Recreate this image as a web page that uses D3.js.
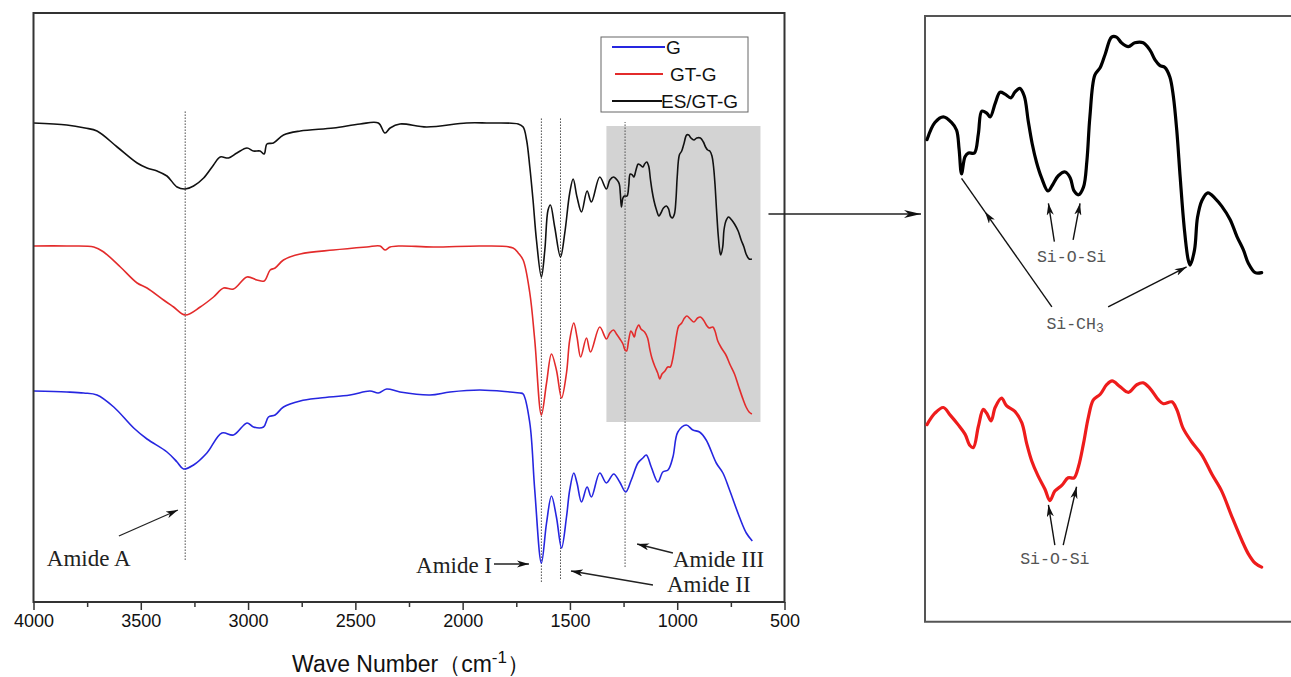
<!DOCTYPE html>
<html>
<head>
<meta charset="utf-8">
<script src="https://cdn.jsdelivr.net/npm/d3@7"></script>
<style>
  body { margin: 0; background: #fff; }
  svg { display: block; }
</style>
</head>
<body>
<svg id="chart" width="1291" height="677"></svg>
<script>
// ---- Data: FTIR spectra, [wavenumber (cm-1), transmittance (a.u., offset)] ----
const tickValues = [4000, 3500, 3000, 2500, 2000, 1500, 1000, 500];
const minorTickValues = [3750, 3250, 2750, 2250, 1750, 1250, 750];
const seriesNames = ["G", "GT-G", "ES/GT-G"];
const seriesColors = ["#2626e0", "#e32b2b", "#111111"];

const specG = [
  [4000,210],[3845,209],[3766,208],[3704,206],[3626,194],[3533,173],[3471,162],[3378,149],[3331,139],
  [3301,132],[3254,136],[3192,148],[3122,168],[3068,166],[3005,178],[2975,174],[2928,174],
  [2905,184],[2874,186],[2835,194],[2757,200],[2664,203],[2525,206],[2432,210],[2393,208],
  [2354,212],[2292,209],[2152,206],[2059,209],[1920,211],[1780,209],[1733,208],[1718,207],
  [1687,178],[1664,111],[1633,38],[1609,78],[1586,105],[1563,84],[1539,53],[1516,84],
  [1501,111],[1482,128],[1467,118],[1446,99],[1420,114],[1400,104],[1361,128],[1330,118],
  [1296,127],[1268,119],[1240,109],[1214,121],[1183,138],[1160,143],[1144,146],[1121,134],
  [1090,119],[1067,129],[1043,131],[1020,144],[997,169],[958,176],[927,171],[896,169],
  [865,161],[818,138],[787,128],[756,111],[710,84],[678,68],[650,60]
];

const specGTG = [
  [4000,355],[3845,355],[3719,354],[3673,349],[3595,334],[3517,318],[3471,313],[3394,301],[3347,294],
  [3293,286],[3223,294],[3161,304],[3114,313],[3068,312],[3005,324],[2959,321],[2925,320],
  [2897,331],[2874,333],[2835,341],[2757,347],[2602,351],[2447,354],[2385,355],[2362,351],
  [2338,354],[2292,355],[2137,354],[1904,355],[1765,353],[1741,348],[1718,341],[1687,308],
  [1664,261],[1633,186],[1609,218],[1586,247],[1563,231],[1539,203],[1516,228],[1501,261],
  [1482,278],[1467,264],[1450,244],[1423,263],[1404,249],[1361,274],
  [1330,262],[1314,268],[1297,271],[1283,267],[1267,262],[1253,257],[1243,251],[1236,250],
  [1226,261],[1216,270],[1209,268],[1200,264],[1192,271],[1179,276],[1169,272],[1152,269],
  [1138,263],[1128,252],[1118,243],[1105,235],[1091,228],[1081,222],[1071,227],[1057,230],
  [1044,234],[1032,234],[1023,240],[1013,252],[1003,266],[993,275],[979,278],[966,283],
  [955,285],[939,282],[922,279],[905,283],[892,284],[878,281],[861,275],[851,273],
  [834,274],[824,270],[811,260],[794,253],[773,246],[753,236],[733,227],[713,214],
  [692,201],[679,194],[665,189],[652,187]
];

const specES = [
  [4000,478],[3845,476],[3760,473],[3704,470],[3610,454],[3517,438],[3471,433],[3424,430],[3378,425],[3331,414],
  [3293,412],[3254,415],[3207,423],[3161,436],[3130,444],[3091,443],[3052,448],[3005,453],
  [2975,450],[2944,450],[2925,447],[2912,457],[2882,458],[2835,466],[2757,470],[2602,473],
  [2478,477],[2393,478],[2362,468],[2338,473],[2292,477],[2168,474],[1982,478],[1888,478],
  [1741,477],[1718,474],[1702,461],[1687,434],[1672,401],[1656,361],[1633,324],[1617,351],
  [1602,391],[1591,396],[1571,374],[1544,344],[1524,368],[1501,408],[1485,422],[1467,404],
  [1446,389],[1420,410],[1400,399],[1361,424],
  [1330,412],[1314,421],[1297,424],[1280,421],[1270,417],[1265,407],[1260,394],[1253,403],
  [1246,405],[1234,405],[1226,415],[1219,427],[1209,426],[1202,424],[1192,431],[1182,437],
  [1172,436],[1160,434],[1152,437],[1142,439],[1133,435],[1125,422],[1117,410],[1108,400],
  [1098,392],[1085,385],[1076,388],[1064,393],[1050,395],[1040,392],[1032,385],[1023,383],
  [1013,387],[1006,401],[1000,424],[990,446],[979,450],[969,457],[956,466],[946,466],
  [936,463],[922,461],[909,463],[892,463],[878,459],[868,454],[858,451],[848,450],
  [838,445],[831,435],[824,417],[817,392],[809,366],[801,349],[797,346],[788,354],
  [782,371],[773,380],[761,384],[746,381],[733,377],[716,370],[702,361],[689,354],
  [679,347],[665,342],[652,342]
];

// Band positions marked with dotted guide lines: [wavenumber, lower value, upper value]
const bandLines = [[3293, 41, 491], [1633, 19, 483], [1544, 22, 483], [1243, 34, 479]];

// Highlighted window, magnified in the side panel
const zoomWavenumbers = [1330, 612];
const zoomValues = [179, 475];

// Band assignments in the main panel
const amideLabels = [
  { text: "Amide A",   at: [3938, 35], anchor: "start" },
  { text: "Amide I",   at: [1863, 28], anchor: "end" },
  { text: "Amide II",  at: [1048, 9],  anchor: "start" },
  { text: "Amide III", at: [1020, 34], anchor: "start" }
];
const amideArrows = [
  { from: [3602, 65], to: [3327, 91] },
  { from: [1854, 37], to: [1691, 37] },
  { from: [1113, 16], to: [1495, 30] },
  { from: [1020, 48], to: [1187, 57] }
];

// Band assignments in the magnified panel
const insetLabels = [
  { text: "Si-O-Si", sub: "",  at: [1037, 347.6] },
  { text: "Si-CH",   sub: "3", at: [1030, 312.3] },
  { text: "Si-O-Si", sub: "",  at: [1071, 188.6] }
];
const insetArrows = [
  { from: [1072, 358.3], to: [1084, 378.5] },
  { from: [1034, 359.2], to: [1020, 378.5] },
  { from: [1077, 324],   to: [1212.5, 374], tip: [1260, 391.6] },
  { from: [963, 324],    to: [804, 345] },
  { from: [1071, 198.6], to: [1084, 219.7] },
  { from: [1054, 198.6], to: [1027, 229.3] }
];

// ---- Layout ----
const svg = d3.select("#chart");
const main = { left: 33.5, right: 784.5, top: 13, bottom: 602 };
const inset = { left: 925, top: 16, bottom: 621.7 };

const x = d3.scaleLinear().domain([4000, 500]).range([main.left, main.right]);
const y = d3.scaleLinear().domain([0, 589]).range([601, 12]);

const xIn = d3.scaleLinear().domain(zoomWavenumbers).range([927, 1281.4]);
const yIn = d3.scaleLinear().domain(zoomValues).range([582.3, 20]);

const defs = svg.append("defs");
function arrowMarker(id, len, half) {
  defs.append("marker")
    .attr("id", id)
    .attr("markerUnits", "userSpaceOnUse")
    .attr("viewBox", `0 0 ${len} ${half * 2}`)
    .attr("markerWidth", len).attr("markerHeight", half * 2)
    .attr("refX", len).attr("refY", half)
    .attr("orient", "auto")
    .append("path")
    .attr("d", `M0,0 L${len},${half} L0,${half * 2} L${len * 0.28},${half} Z`)
    .attr("fill", "#111");
}
arrowMarker("head", 12, 3.6);
arrowMarker("headBig", 17, 4);

// Highlight window
svg.append("rect")
  .attr("x", x(zoomWavenumbers[0]))
  .attr("y", y(zoomValues[1]))
  .attr("width", x(zoomWavenumbers[1]) - x(zoomWavenumbers[0]))
  .attr("height", y(zoomValues[0]) - y(zoomValues[1]))
  .attr("fill", "#d3d3d3");

// Dotted band guides
svg.append("g").selectAll("line").data(bandLines).join("line")
  .attr("x1", d => x(d[0])).attr("x2", d => x(d[0]))
  .attr("y1", d => y(d[1])).attr("y2", d => y(d[2]))
  .attr("stroke", "#555").attr("stroke-width", 1)
  .attr("stroke-dasharray", "1.6,1.4");

// Spectra
const line = d3.line()
  .x(d => x(d[0])).y(d => y(d[1]))
  .curve(d3.curveCatmullRom.alpha(0.5));
const spectra = [specG, specGTG, specES];
svg.append("g").selectAll("path").data(spectra).join("path")
  .attr("d", line)
  .attr("fill", "none")
  .attr("stroke", (d, i) => seriesColors[i])
  .attr("stroke-width", 1.6)
  .attr("stroke-linejoin", "round");

// Plot frame
svg.append("rect")
  .attr("x", main.left).attr("y", main.top)
  .attr("width", main.right - main.left).attr("height", main.bottom - main.top)
  .attr("fill", "none").attr("stroke", "#333").attr("stroke-width", 2);

// X axis
const axisG = svg.append("g").attr("transform", `translate(0,${main.bottom})`);
axisG.call(d3.axisBottom(x).tickValues(tickValues).tickSize(8).tickPadding(4).tickFormat(d3.format("d")));
axisG.append("g").call(d3.axisBottom(x).tickValues(minorTickValues).tickSize(5).tickFormat(""));
axisG.selectAll(".domain").remove();
axisG.selectAll(".tick line").attr("stroke", "#333").attr("stroke-width", 1.5);
axisG.selectAll(".tick text")
  .attr("font-family", "'Liberation Sans', Arial, sans-serif")
  .attr("font-size", 18).attr("fill", "#111");

const title = svg.append("text")
  .attr("x", (main.left + main.right) / 2 + 2).attr("y", 672)
  .attr("text-anchor", "middle")
  .attr("font-family", "'Liberation Sans', Arial, sans-serif")
  .attr("font-size", 23).attr("fill", "#111");
title.append("tspan").text("Wave Number（cm");
title.append("tspan").attr("dy", -9).attr("font-size", 17).text("-1");
title.append("tspan").attr("dy", 9).text("）");

// Legend
const legend = svg.append("g").attr("transform", "translate(601,37)");
legend.append("rect").attr("width", 147).attr("height", 75)
  .attr("fill", "#fff").attr("stroke", "#666").attr("stroke-width", 1);
const legendRows = [
  { x1: 11, x2: 64, tx: 65, y: 10 },
  { x1: 14, x2: 62, tx: 69, y: 37 },
  { x1: 11, x2: 61, tx: 60, y: 64 }
];
legendRows.forEach((r, i) => {
  legend.append("line").attr("x1", r.x1).attr("x2", r.x2).attr("y1", r.y).attr("y2", r.y)
    .attr("stroke", seriesColors[i]).attr("stroke-width", 2);
  legend.append("text").attr("x", r.tx).attr("y", r.y + 7)
    .attr("font-family", "'Liberation Sans', Arial, sans-serif")
    .attr("font-size", 19).attr("fill", "#111").text(seriesNames[i]);
});

// Amide band labels and arrows
svg.append("g").selectAll("text").data(amideLabels).join("text")
  .attr("x", d => x(d.at[0])).attr("y", d => y(d.at[1]))
  .attr("text-anchor", d => d.anchor)
  .attr("font-family", "'Liberation Serif', 'Times New Roman', serif")
  .attr("font-size", 23).attr("fill", "#222")
  .text(d => d.text);
svg.append("g").selectAll("line").data(amideArrows).join("line")
  .attr("x1", d => x(d.from[0])).attr("y1", d => y(d.from[1]))
  .attr("x2", d => x(d.to[0])).attr("y2", d => y(d.to[1]))
  .attr("stroke", "#222").attr("stroke-width", 1.3)
  .attr("marker-end", "url(#head)");

// Connector from the highlighted window to the magnified panel
svg.append("line")
  .attr("x1", x(zoomWavenumbers[1]) + 8).attr("x2", inset.left - 4)
  .attr("y1", 214).attr("y2", 214)
  .attr("stroke", "#222").attr("stroke-width", 1.5)
  .attr("marker-end", "url(#headBig)");

// ---- Magnified panel ----
svg.append("path")
  .attr("d", `M1300,${inset.top} L${inset.left},${inset.top} L${inset.left},${inset.bottom} L1300,${inset.bottom}`)
  .attr("fill", "none").attr("stroke", "#555").attr("stroke-width", 2);

const lineIn = d3.line()
  .x(d => xIn(d[0])).y(d => yIn(d[1]))
  .curve(d3.curveCatmullRom.alpha(0.5));
const inZoom = s => s.filter(d => d[0] <= zoomWavenumbers[0]);
[[specGTG, 1], [specES, 2]].forEach(([s, i]) => {
  svg.append("path")
    .attr("d", lineIn(inZoom(s)))
    .attr("fill", "none")
    .attr("stroke", i === 2 ? "#000" : "#ee1c1c")
    .attr("stroke-width", 3.2)
    .attr("stroke-linejoin", "round").attr("stroke-linecap", "round");
});

const insetText = svg.append("g").selectAll("text").data(insetLabels).join("text")
  .attr("x", d => xIn(d.at[0])).attr("y", d => yIn(d.at[1]))
  .attr("text-anchor", "middle")
  .attr("font-family", "'Liberation Mono', 'DejaVu Sans Mono', monospace")
  .attr("font-size", 16.5).attr("fill", "#555");
insetText.append("tspan").text(d => d.text);
insetText.filter(d => d.sub).append("tspan")
  .attr("dy", 3).attr("font-size", 13).text(d => d.sub);

svg.append("g").selectAll("line").data(insetArrows).join("line")
  .attr("x1", d => xIn(d.from[0])).attr("y1", d => yIn(d.from[1]))
  .attr("x2", d => xIn(d.to[0])).attr("y2", d => yIn(d.to[1]))
  .attr("stroke", "#111").attr("stroke-width", 1.4)
  .attr("marker-end", "url(#head)");
svg.append("g").selectAll("line").data(insetArrows.filter(d => d.tip)).join("line")
  .attr("x1", d => xIn(d.to[0])).attr("y1", d => yIn(d.to[1]))
  .attr("x2", d => xIn(d.tip[0])).attr("y2", d => yIn(d.tip[1]))
  .attr("stroke", "#111").attr("stroke-width", 1.4);
</script>
</body>
</html>
